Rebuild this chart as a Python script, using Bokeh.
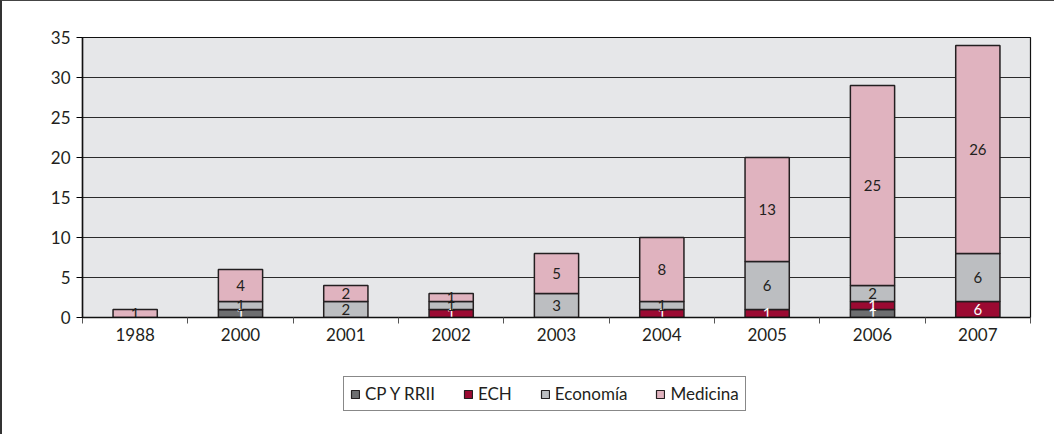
from bokeh.plotting import figure
from bokeh.models import ColumnDataSource, FixedTicker, Legend, LegendItem, Range1d
from bokeh.layouts import column
from bokeh.core.properties import value
from bokeh.embed import file_html
from bokeh.resources import INLINE

years = ["1988", "2000", "2001", "2002", "2003", "2004", "2005", "2006", "2007"]
series = ["CP Y RRII", "ECH", "Economía", "Medicina"]
cp_rrii = [0, 1, 0, 0, 0, 0, 0, 1, 0]
ech = [0, 0, 0, 1, 0, 1, 1, 1, 2]
economia = [0, 1, 2, 1, 3, 1, 6, 2, 6]
medicina = [1, 4, 2, 1, 5, 8, 13, 25, 26]
# labels as printed in the reference
cp_labels = ["", "1", "", "", "", "", "", "1", ""]
ech_labels = ["", "", "", "1", "", "1", "1", "1", "6"]
eco_labels = ["", "1", "2", "1", "3", "1", "6", "2", "6"]
med_labels = ["1", "4", "2", "1", "5", "8", "13", "25", "26"]
y_ticks = [0, 5, 10, 15, 20, 25, 30, 35]

colors = ["#6d6e70", "#9b0a32", "#bcbec1", "#e0b3bf"]
label_colors = ["#ffffff", "#ffffff", "#231f20", "#231f20"]
FONT = "Lato"
EDGE = "#231f20"

xs = [i + 0.5 for i in range(len(years))]
data = {"x": xs, "CP Y RRII": cp_rrii, "ECH": ech, "Economía": economia, "Medicina": medicina}
src = ColumnDataSource(data)

p = figure(frame_width=946, frame_height=279, output_backend="svg", toolbar_location=None,
           x_range=Range1d(0, len(years)), y_range=Range1d(0, 35))
p.min_border_left = 80
p.min_border_right = 26
p.min_border_top = 36
p.min_border_bottom = 30
p.background_fill_color = "#e6e7e9"
p.border_fill_color = "white"
p.outline_line_color = "#111111"
p.outline_line_width = 1.2
p.styles = {"border-top": "1px solid #444", "border-left": "2px solid #333"}

p.vbar_stack(series, x="x", width=0.42, source=src, color=colors,
             line_color=EDGE, line_width=1.5)

# segment labels
all_vals = [cp_rrii, ech, economia, medicina]
all_labels = [cp_labels, ech_labels, eco_labels, med_labels]
base = [0] * len(years)
for k in range(4):
    tx, ty, tt = [], [], []
    for i in range(len(years)):
        v = all_vals[k][i]
        if all_labels[k][i] != "":
            tx.append(xs[i])
            ty.append(base[i] + v / 2.0)
            tt.append(all_labels[k][i])
        base[i] += v
    p.text(x=tx, y=ty, text=tt, text_align="center", text_baseline="middle",
           text_font=value(FONT), text_font_size="15px", text_color=label_colors[k])

# grid
p.xgrid.visible = False
p.ygrid.ticker = FixedTicker(ticks=y_ticks)
p.ygrid.grid_line_color = "#2a2a2a"
p.ygrid.grid_line_width = 1

# axes
p.xaxis.ticker = FixedTicker(ticks=xs, minor_ticks=list(range(len(years) + 1)))
p.xaxis.major_label_overrides = {x: y for x, y in zip(xs, years)}
p.xaxis.major_tick_out = 0
p.xaxis.major_tick_in = 0
p.xaxis.minor_tick_out = 6
p.xaxis.minor_tick_in = 0
p.xaxis.minor_tick_line_color = "#555555"
p.xaxis.axis_line_color = "#111111"
p.xaxis.axis_line_width = 1.5
p.xaxis.major_label_standoff = 4

p.yaxis.ticker = FixedTicker(ticks=y_ticks)
p.yaxis.major_tick_out = 6
p.yaxis.major_tick_in = 0
p.yaxis.minor_tick_line_color = None
p.yaxis.axis_line_color = "#111111"
p.yaxis.axis_line_width = 1.5
p.yaxis.major_label_standoff = 6

for ax in (p.xaxis, p.yaxis):
    ax.major_label_text_font = FONT
    ax.major_label_text_font_size = "17px"
    ax.major_label_text_color = "#231f20"

# legend panel (second figure under the chart)
lg = figure(width=1046, height=88, output_backend="svg", toolbar_location=None,
            x_range=Range1d(0, 1), y_range=Range1d(0, 1),
            x_axis_location=None, y_axis_location=None)
lg.min_border = 0
lg.outline_line_color = None
lg.background_fill_color = "white"
lg.border_fill_color = "white"
lg.xgrid.visible = False
lg.ygrid.visible = False
lg.styles = {"border-left": "2px solid #333"}
items = []
for s, c in zip(series, colors):
    # off-range swatch renderer, only used to draw the legend glyph
    r = lg.quad(left=[-5], right=[-4], bottom=[-5], top=[-4], fill_color=c,
                line_color=EDGE, line_width=1.2)
    items.append(LegendItem(label=s, renderers=[r]))

legend = Legend(items=items, orientation="horizontal", location=(261, 23))
legend.label_text_font = FONT
legend.label_text_font_size = "17px"
legend.label_text_color = "#231f20"
legend.glyph_width = 10
legend.glyph_height = 10
legend.label_standoff = 5
legend.spacing = 28
legend.padding = 6
legend.margin = 0
legend.border_line_color = "#111111"
legend.border_line_width = 1.2
legend.background_fill_color = "white"
legend.background_fill_alpha = 1.0
lg.add_layout(legend, "center")

layout = column(p, lg, spacing=0)
open("out.html", "w").write(file_html(layout, INLINE))
